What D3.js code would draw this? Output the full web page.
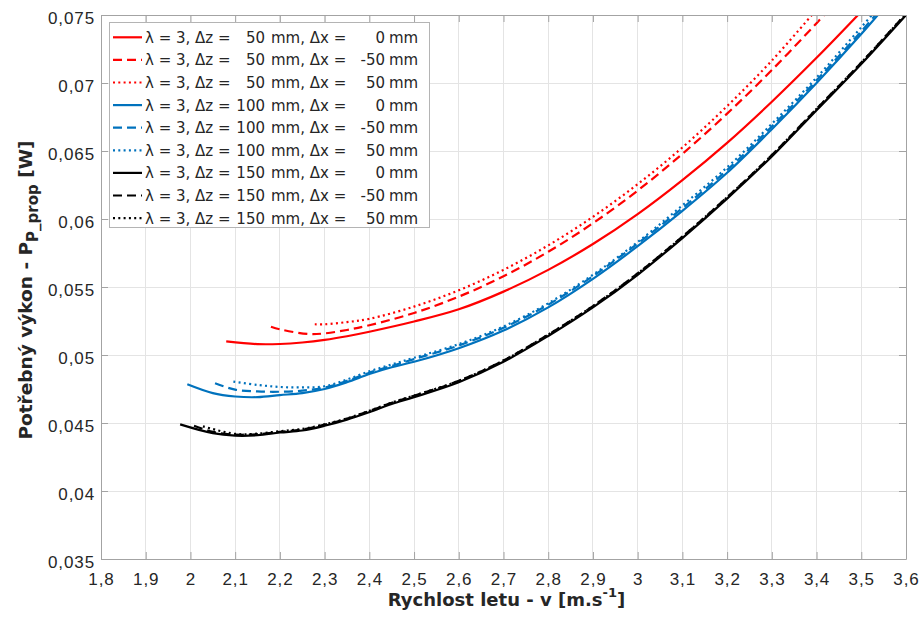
<!DOCTYPE html>
<html>
<head>
<meta charset="utf-8">
<script src="https://cdn.jsdelivr.net/npm/d3@7"></script>
<style>
  html, body { margin: 0; padding: 0; background: #fff; }
  svg { display: block; font-family: "DejaVu Sans", sans-serif; }
</style>
</head>
<body>
<svg id="chart" width="921" height="626"></svg>
<script>
// Required propulsion power versus flight speed, lambda = 3, several Δz / Δx offsets.

const speedTicks = [1.8, 1.9, 2.0, 2.1, 2.2, 2.3, 2.4, 2.5, 2.6, 2.7, 2.8, 2.9, 3.0, 3.1, 3.2, 3.3, 3.4, 3.5, 3.6];
const speedTickLabels = ["1,8", "1,9", "2", "2,1", "2,2", "2,3", "2,4", "2,5", "2,6", "2,7", "2,8", "2,9", "3", "3,1", "3,2", "3,3", "3,4", "3,5", "3,6"];
const powerTicks = [0.035, 0.04, 0.045, 0.05, 0.055, 0.06, 0.065, 0.07, 0.075];
const powerTickLabels = ["0,035", "0,04", "0,045", "0,05", "0,055", "0,06", "0,065", "0,07", "0,075"];

// Δz = 50 mm
const v_dz50_dx0   = [2.08, 2.15, 2.2, 2.25, 2.3, 2.35, 2.4, 2.5, 2.6, 2.7, 2.8, 2.9, 3.0, 3.1, 3.2, 3.3, 3.4, 3.5];
const p_dz50_dx0   = [0.0510, 0.05080, 0.05081, 0.05092, 0.05111, 0.05138, 0.05171, 0.05246, 0.05336, 0.05466, 0.05626, 0.05816, 0.06036, 0.06286, 0.06560, 0.06862, 0.07185, 0.07525];
const v_dz50_dxm50 = [2.18, 2.2, 2.265, 2.3, 2.35, 2.4, 2.5, 2.6, 2.7, 2.8, 2.9, 3.0, 3.1, 3.2, 3.3, 3.4, 3.45];
const p_dz50_dxm50 = [0.05208, 0.05189, 0.05154, 0.05159, 0.05184, 0.05219, 0.05309, 0.05429, 0.05579, 0.05759, 0.05969, 0.06209, 0.06479, 0.06775, 0.07095, 0.07440, 0.0762];
const v_dz50_dx50  = [2.278, 2.3, 2.35, 2.4, 2.5, 2.6, 2.7, 2.8, 2.9, 3.0, 3.1, 3.2, 3.3, 3.4];
const p_dz50_dx50  = [0.05226, 0.05226, 0.05242, 0.05266, 0.05356, 0.05476, 0.05626, 0.05806, 0.06016, 0.06256, 0.06526, 0.06830, 0.07165, 0.07540];

// Δz = 100 mm
const v_dz100_dx0   = [1.993, 2.05, 2.1, 2.15, 2.2, 2.25, 2.3, 2.35, 2.4, 2.45, 2.5, 2.6, 2.7, 2.8, 2.9, 3.0, 3.1, 3.2, 3.3, 3.4, 3.5, 3.55];
const p_dz100_dx0   = [0.04785, 0.0472, 0.04695, 0.0469, 0.04705, 0.0472, 0.0475, 0.0480, 0.0486, 0.0491, 0.0495, 0.0505, 0.0518, 0.0535, 0.0556, 0.0580, 0.0606, 0.0634, 0.0666, 0.0700, 0.0736, 0.0755];
const v_dz100_dxm50 = [2.055, 2.1, 2.15, 2.2, 2.25, 2.3, 2.35, 2.4, 2.45, 2.5, 2.6, 2.7, 2.8, 2.9, 3.0, 3.1, 3.2, 3.3, 3.4, 3.5, 3.55];
const p_dz100_dxm50 = [0.04792, 0.04745, 0.04732, 0.0473, 0.04738, 0.0476, 0.0481, 0.0487, 0.0492, 0.0497, 0.0507, 0.0520, 0.0537, 0.0558, 0.0582, 0.0608, 0.0636, 0.0668, 0.0702, 0.0738, 0.0757];
const v_dz100_dx50  = [2.096, 2.15, 2.2, 2.25, 2.3, 2.35, 2.4, 2.45, 2.5, 2.6, 2.7, 2.8, 2.9, 3.0, 3.1, 3.2, 3.3, 3.4, 3.5, 3.55];
const p_dz100_dx50  = [0.04804, 0.0478, 0.04765, 0.04762, 0.0477, 0.0482, 0.0488, 0.0493, 0.0498, 0.0508, 0.0521, 0.0538, 0.0559, 0.0583, 0.0610, 0.0638, 0.0670, 0.0704, 0.0741, 0.0760];

// Δz = 150 mm
const v_dz150_dx0   = [1.977, 2.05, 2.1, 2.15, 2.2, 2.25, 2.3, 2.35, 2.4, 2.45, 2.5, 2.6, 2.7, 2.8, 2.9, 3.0, 3.1, 3.2, 3.3, 3.4, 3.5, 3.6];
const p_dz150_dx0   = [0.0449, 0.04425, 0.04407, 0.0441, 0.0443, 0.04445, 0.0448, 0.04525, 0.0458, 0.0464, 0.0469, 0.0480, 0.0495, 0.0514, 0.0535, 0.0559, 0.0586, 0.0615, 0.0646, 0.0680, 0.0714, 0.0750];
const v_dz150_dxm50 = [2.008, 2.05, 2.1, 2.15, 2.2, 2.25, 2.3, 2.35, 2.4, 2.45, 2.5, 2.6, 2.7, 2.8, 2.9, 3.0, 3.1, 3.2, 3.3, 3.4, 3.5, 3.6];
const p_dz150_dxm50 = [0.0448, 0.04435, 0.04415, 0.04418, 0.04435, 0.04452, 0.04488, 0.04532, 0.04588, 0.04648, 0.04700, 0.0481, 0.0496, 0.0515, 0.0536, 0.0560, 0.0587, 0.0616, 0.0647, 0.0681, 0.0715, 0.0751];
const v_dz150_dx50  = [2.028, 2.1, 2.15, 2.2, 2.25, 2.3, 2.35, 2.4, 2.45, 2.5, 2.6, 2.7, 2.8, 2.9, 3.0, 3.1, 3.2, 3.3, 3.4, 3.5, 3.6];
const p_dz150_dx50  = [0.04475, 0.0442, 0.04422, 0.0444, 0.04456, 0.04490, 0.04534, 0.04590, 0.04650, 0.04702, 0.0481, 0.0496, 0.0515, 0.0536, 0.0560, 0.0587, 0.0616, 0.0647, 0.0681, 0.0715, 0.0751];

const seriesDz = ["50", "50", "50", "100", "100", "100", "150", "150", "150"];
const seriesDx = ["0", "-50", "50", "0", "-50", "50", "0", "-50", "50"];
const seriesColors = ["#ff0000", "#ff0000", "#ff0000", "#0072bd", "#0072bd", "#0072bd", "#000000", "#000000", "#000000"];
const seriesDash = [null, "9,5", "2,3.3", null, "9,5", "2,3.3", null, "9,5", "2,3.3"];

const series = [
  [v_dz50_dx0, p_dz50_dx0], [v_dz50_dxm50, p_dz50_dxm50], [v_dz50_dx50, p_dz50_dx50],
  [v_dz100_dx0, p_dz100_dx0], [v_dz100_dxm50, p_dz100_dxm50], [v_dz100_dx50, p_dz100_dx50],
  [v_dz150_dx0, p_dz150_dx0], [v_dz150_dxm50, p_dz150_dxm50], [v_dz150_dx50, p_dz150_dx50]
].map(([v, p], i) => ({
  points: v.map((s, j) => [s, p[j]]),
  dz: seriesDz[i], dx: seriesDx[i], color: seriesColors[i], dash: seriesDash[i]
}));

const svg = d3.select("#chart");
const plot = { left: 101, right: 906, top: 15, bottom: 559 };

const x = d3.scaleLinear().domain([1.8, 3.6]).range([plot.left, plot.right]);
const y = d3.scaleLinear().domain([0.035, 0.075]).range([plot.bottom, plot.top]);

const axisColor = "#a3a3a3";
const textColor = "#262626";

// grid
const grid = svg.append("g");
grid.selectAll(".gx").data(speedTicks.slice(1, -1)).join("line")
  .attr("x1", d => x(d)).attr("x2", d => x(d))
  .attr("y1", plot.top).attr("y2", plot.bottom)
  .attr("stroke", "#e4e4e4").attr("stroke-width", 1).attr("shape-rendering", "crispEdges");
grid.selectAll(".gy").data(powerTicks.slice(1, -1)).join("line")
  .attr("x1", plot.left).attr("x2", plot.right)
  .attr("y1", d => y(d)).attr("y2", d => y(d))
  .attr("stroke", "#e4e4e4").attr("stroke-width", 1).attr("shape-rendering", "crispEdges");

// curves
svg.append("clipPath").attr("id", "plotClip").append("rect")
  .attr("x", plot.left).attr("y", plot.top)
  .attr("width", plot.right - plot.left).attr("height", plot.bottom - plot.top);

const line = d3.line().x(d => x(d[0])).y(d => y(d[1])).curve(d3.curveCatmullRom.alpha(0.5));

svg.append("g").attr("clip-path", "url(#plotClip)")
  .selectAll("path").data(series).join("path")
  .attr("d", d => line(d.points))
  .attr("fill", "none")
  .attr("stroke", d => d.color)
  .attr("stroke-width", 2.2)
  .attr("stroke-dasharray", d => d.dash)
  .attr("stroke-linejoin", "round");

// axes
const tickLen = 7;
const fmtX = d => speedTickLabels[speedTicks.indexOf(d)];
const fmtY = d => powerTickLabels[powerTicks.indexOf(d)];

function styleAxis(g) {
  g.select(".domain").attr("stroke", axisColor);
  g.selectAll(".tick line").attr("stroke", axisColor);
  g.selectAll(".tick text").attr("fill", textColor).attr("font-size", 17).attr("letter-spacing", 0.9);
}

svg.append("g").attr("transform", `translate(0,${plot.bottom})`)
  .call(d3.axisBottom(x).tickValues(speedTicks).tickFormat(fmtX).tickSizeInner(-tickLen).tickSizeOuter(0).tickPadding(14))
  .call(styleAxis);
svg.append("g").attr("transform", `translate(0,${plot.top})`)
  .call(d3.axisTop(x).tickValues(speedTicks).tickFormat("").tickSizeInner(-tickLen).tickSizeOuter(0))
  .call(styleAxis);
svg.append("g").attr("transform", `translate(${plot.left},0)`)
  .call(d3.axisLeft(y).tickValues(powerTicks).tickFormat(fmtY).tickSizeInner(-tickLen).tickSizeOuter(0).tickPadding(6))
  .call(styleAxis)
  .selectAll(".tick text").attr("dy", "0.5em");
svg.append("g").attr("transform", `translate(${plot.right},0)`)
  .call(d3.axisRight(y).tickValues(powerTicks).tickFormat("").tickSizeInner(-tickLen).tickSizeOuter(0))
  .call(styleAxis);

// axis titles
const xTitle = svg.append("text")
  .attr("x", (plot.left + plot.right) / 2 + 3).attr("y", 606)
  .attr("text-anchor", "middle").attr("font-size", 18).attr("font-weight", "bold").attr("fill", textColor);
xTitle.append("tspan").text("Rychlost letu - v [m.s");
xTitle.append("tspan").attr("font-size", 13).attr("dy", -9).text("-1");
xTitle.append("tspan").attr("dy", 9).text("]");

const yTitle = svg.append("text")
  .attr("transform", `translate(32,290) rotate(-90)`)
  .attr("text-anchor", "middle").attr("font-size", 18.5).attr("font-weight", "bold").attr("fill", textColor);
yTitle.append("tspan").text("Potřebný výkon - P");
yTitle.append("tspan").attr("font-size", 15).attr("dy", 6).text("P_prop");
yTitle.append("tspan").attr("dy", -6).text(" [W]");

// legend
const legend = svg.append("g");
legend.append("rect")
  .attr("x", 109.5).attr("y", 22.5).attr("width", 320).attr("height", 205)
  .attr("fill", "#fff").attr("stroke", "#b4b4b4").attr("stroke-width", 1);

const rows = legend.selectAll(".row").data(series).join("g")
  .attr("transform", (d, i) => `translate(0,${37.3 + i * 22.6})`);
rows.append("line")
  .attr("x1", 113).attr("x2", 142).attr("y1", 0).attr("y2", 0)
  .attr("stroke", d => d.color).attr("stroke-width", 2.2)
  .attr("stroke-dasharray", d => d.dash);

const legendText = (sel, xPos, anchor, fn) => sel.append("text")
  .attr("x", xPos).attr("y", 0).attr("dy", "0.36em")
  .attr("text-anchor", anchor).attr("font-size", 15).attr("fill", textColor)
  .text(fn);
legendText(rows, 145, "start", () => "λ = 3, Δz =");
legendText(rows, 265, "end", d => d.dz);
legendText(rows, 271, "start", () => "mm, Δx =");
legendText(rows, 385, "end", d => d.dx);
legendText(rows, 389, "start", () => "mm");
</script>
</body>
</html>
